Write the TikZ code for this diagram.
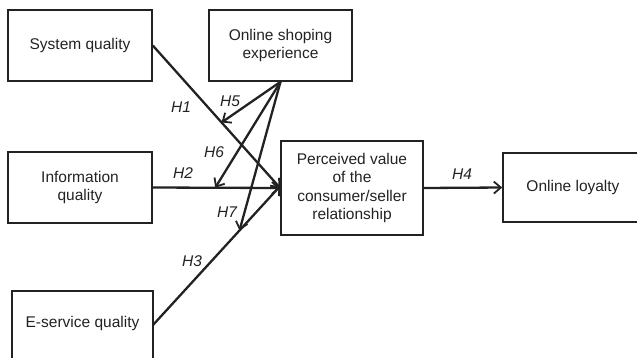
\documentclass[tikz,border=0pt]{standalone}
\usepackage{fontspec}
\setmainfont{Liberation Sans}
\usetikzlibrary{arrows.meta,calc}
\definecolor{ink}{HTML}{222222}
\begin{document}
\begin{tikzpicture}[x=1pt,y=-1pt,
  box/.style={draw=ink,line width=1.6pt,rectangle,inner sep=0pt,align=center,text=ink,
    font=\fontsize{15.5}{18.5}\selectfont},
  conn/.style={draw=ink,line width=2.3pt,-{Straight Barb[length=7pt,width=12pt,line width=1.8pt]}},
  hyp/.style={text=ink,font=\fontsize{15.5}{18}\selectfont\itshape,inner sep=0pt}]
\useasboundingbox (0,0) rectangle (637,357);
\node[box,minimum width=144pt,minimum height=71pt] (sq) at (80,45.5) {System quality};
\node[box,minimum width=143pt,minimum height=71pt] (ose) at (280.5,45.5) {Online shoping\\experience};
\node[box,minimum width=144pt,minimum height=71pt] (iq) at (80,187.5) {Information\\quality};
\node[box,minimum width=141pt,minimum height=70pt,anchor=north] (es) at (82.5,290) {};
\node[text=ink,font=\fontsize{15.5}{18.5}\selectfont,inner sep=0pt] (est) at (82.5,323) {E-service quality};
\coordinate (esout) at (153,325);
\node[box,minimum width=142pt,minimum height=94pt] (pv) at (352,188) {Perceived value\\of the\\consumer/seller\\relationship};
\node[box,minimum width=140pt,minimum height=69pt] (ol) at (573,187.5) {Online loyalty};
\coordinate (pvin) at (pv.west);
\draw[conn] (sq.east) -- (pvin);
\draw[conn] (iq.east) -- (pvin);
\draw[conn] (esout) -- ([yshift=2pt]pvin);
\draw[conn] (pv.east) -- (ol.west);
\coordinate (m1) at ($(sq.east)!0.54!(pvin)$);
\coordinate (m2) at ($(iq.east)!0.49!(pvin)$);
\coordinate (m3) at ($(esout)!0.68!([yshift=2pt]pvin)$);
\draw[conn] (ose.south) -- (m1);
\draw[conn] (ose.south) -- (m2);
\draw[conn] (ose.south) -- (m3);
\node[hyp] (h1) at (181,107) {H1};
\node[hyp] (h5) at (230,101) {H5};
\node[hyp] (h6) at (214,152) {H6};
\node[hyp] (h2) at (183,173) {H2};
\node[hyp] (h7) at (227,212) {H7};
\node[hyp] (h3) at (192,261) {H3};
\node[hyp] (h4) at (462,174) {H4};
\end{tikzpicture}
\end{document}
